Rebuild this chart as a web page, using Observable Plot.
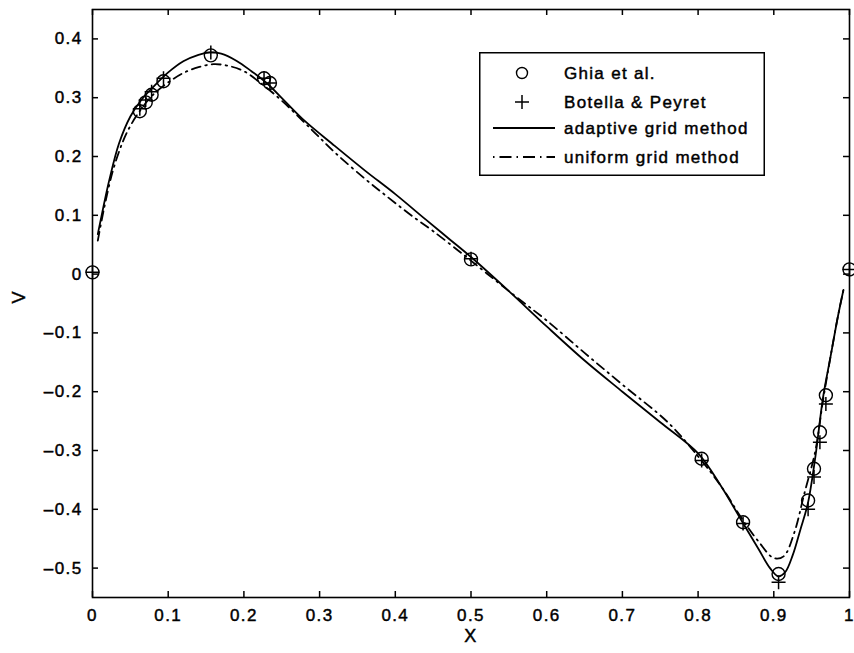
<!DOCTYPE html>
<html><head><meta charset="utf-8">
<script src="https://cdn.jsdelivr.net/npm/d3@7"></script>
<script src="https://cdn.jsdelivr.net/npm/@observablehq/plot@0.6"></script>
<style>
body{margin:0;background:#fff;}
#wrap{position:relative;width:854px;height:653px;font-family:"Liberation Sans",Arial,Helvetica,sans-serif;}
#wrap svg text{stroke:#000;stroke-width:0.45px;}
#legend{position:absolute;left:479px;top:52px;}
</style></head><body><div id="wrap"></div>
<script>
// Ghia et al. (circles)
const ghiaX = [0, 0.0625, 0.0703, 0.0781, 0.0938, 0.1563, 0.2266, 0.2344, 0.5, 0.8047, 0.8594, 0.9063, 0.9453, 0.9531, 0.9609, 0.9688, 1];
const ghiaV = [0.003, 0.277, 0.292, 0.305, 0.328, 0.372, 0.333, 0.325, 0.025, -0.314, -0.422, -0.510, -0.385, -0.331, -0.269, -0.206, 0.008];
// Botella & Peyret (plus)
const bpX = [0, 0.0625, 0.0703, 0.0781, 0.0938, 0.1563, 0.2266, 0.2344, 0.5, 0.8047, 0.8594, 0.9063, 0.9453, 0.9531, 0.9609, 0.9688, 1];
const bpV = [0.003, 0.281, 0.296, 0.310, 0.333, 0.377, 0.333, 0.325, 0.026, -0.317, -0.424, -0.524, -0.400, -0.345, -0.286, -0.221, 0.008];
// adaptive grid method (solid)
const adaptX = [0.007, 0.015, 0.022, 0.035, 0.05, 0.065, 0.08, 0.1, 0.12, 0.14, 0.155, 0.17, 0.19, 0.21, 0.23, 0.255, 0.28, 0.32, 0.36, 0.40, 0.44, 0.47, 0.50, 0.55, 0.60, 0.65, 0.70, 0.75, 0.80, 0.83, 0.86, 0.88, 0.895, 0.906, 0.915, 0.925, 0.935, 0.945, 0.955, 0.965, 0.975, 0.985, 0.992];
const adaptV = [0.068, 0.118, 0.159, 0.222, 0.268, 0.297, 0.318, 0.343, 0.362, 0.373, 0.377, 0.375, 0.363, 0.345, 0.325, 0.293, 0.261, 0.218, 0.176, 0.136, 0.093, 0.061, 0.029, -0.029, -0.089, -0.147, -0.200, -0.252, -0.305, -0.360, -0.425, -0.468, -0.500, -0.514, -0.507, -0.478, -0.435, -0.390, -0.310, -0.210, -0.140, -0.070, -0.027];
// uniform grid method (dash-dot)
const unifX = [0.007, 0.015, 0.027, 0.04, 0.05, 0.065, 0.08, 0.1, 0.12, 0.14, 0.16, 0.18, 0.2, 0.22, 0.25, 0.29, 0.32, 0.36, 0.39, 0.42, 0.45, 0.49, 0.52, 0.56, 0.6, 0.65, 0.7, 0.76, 0.8, 0.83, 0.86, 0.88, 0.9, 0.913, 0.927, 0.94, 0.955, 0.965, 0.975, 0.985, 0.992];
const unifV = [0.057, 0.110, 0.176, 0.225, 0.252, 0.282, 0.305, 0.326, 0.342, 0.352, 0.357, 0.354, 0.345, 0.327, 0.295, 0.245, 0.207, 0.162, 0.131, 0.101, 0.073, 0.033, 0.002, -0.039, -0.079, -0.134, -0.188, -0.252, -0.310, -0.360, -0.420, -0.455, -0.483, -0.480, -0.440, -0.375, -0.300, -0.215, -0.140, -0.070, -0.027];
// ticks
const xTicks = [0, 0.1, 0.2, 0.3, 0.4, 0.5, 0.6, 0.7, 0.8, 0.9, 1];
const yTicks = [-0.5, -0.4, -0.3, -0.2, -0.1, 0, 0.1, 0.2, 0.3, 0.4];
const legendLabels = ["Ghia et al.", "Botella & Peyret", "adaptive grid method", "uniform grid method"];
const xDomain = [0, 1];
const yDomain = [-0.55, 0.45];

const ghia = ghiaX.map((x, i) => ({x, v: ghiaV[i]}));
const bp = bpX.map((x, i) => ({x, v: bpV[i]}));
const adapt = adaptX.map((x, i) => ({x, v: adaptV[i]}));
const unif = unifX.map((x, i) => ({x, v: unifV[i]}));

const W = 854, H = 653, mT = 9, mB = 56, mL = 92, mR = 5;
const fw = W - mL - mR, fh = H - mT - mB, tk = 6;
// tick length expressed in data units of each scale
const tx = tk / fw * (xDomain[1] - xDomain[0]);
const ty = tk / fh * (yDomain[1] - yDomain[0]);

const plusSymbol = {draw(ctx, size) { const r = Math.sqrt(size / Math.PI); ctx.moveTo(-r, 0); ctx.lineTo(r, 0); ctx.moveTo(0, -r); ctx.lineTo(0, r); }};
const fmt = d => d === 0 ? "0" : (d < 0 ? "\u2013" : "") + Math.abs(d).toString().replace(/^0?\./, "0.");
const dash = "9,5,1.5,5";

const plot = Plot.plot({
  width: W, height: H,
  marginTop: mT, marginBottom: mB, marginLeft: mL, marginRight: mR,
  style: {fontFamily: '"Liberation Sans", Arial, Helvetica, sans-serif', fontSize: "17px", color: "#000", background: "#fff", letterSpacing: "1.4px"},
  x: {domain: xDomain},
  y: {domain: yDomain},
  marks: [
    Plot.axisX(xTicks, {anchor: "bottom", tickSize: 0, tickPadding: 11, tickFormat: fmt, label: null, fontSize: 17}),
    Plot.axisY(yTicks, {anchor: "left", tickSize: 0, tickPadding: 10, tickFormat: fmt, label: null, fontSize: 17}),
    Plot.ruleX(xTicks, {x: d => d, y1: yDomain[0], y2: yDomain[0] + ty, stroke: "#000", strokeWidth: 1.5}),
    Plot.ruleX(xTicks, {x: d => d, y1: yDomain[1], y2: yDomain[1] - ty, stroke: "#000", strokeWidth: 1.5}),
    Plot.ruleY(yTicks, {y: d => d, x1: xDomain[0], x2: xDomain[0] + tx, stroke: "#000", strokeWidth: 1.5}),
    Plot.ruleY(yTicks, {y: d => d, x1: xDomain[1], x2: xDomain[1] - tx, stroke: "#000", strokeWidth: 1.5}),
    Plot.frame({stroke: "#000", strokeWidth: 1.6}),
    Plot.line(unif, {x: "x", y: "v", stroke: "#000", strokeWidth: 1.8, strokeDasharray: dash, curve: "catmull-rom"}),
    Plot.line(adapt, {x: "x", y: "v", stroke: "#000", strokeWidth: 1.8, curve: "catmull-rom"}),
    Plot.dot(ghia, {x: "x", y: "v", r: 6.5, stroke: "#000", strokeWidth: 1.4, fill: "none"}),
    Plot.dot(bp, {x: "x", y: "v", r: 7, symbol: plusSymbol, stroke: "#000", strokeWidth: 1.5, fill: "none"}),
    Plot.text(["X"], {frameAnchor: "bottom", dy: 39, text: d => d, fontSize: 18, lineAnchor: "middle"}),
    Plot.text(["V"], {frameAnchor: "left", dx: -73, text: d => d, fontSize: 18, rotate: -90, lineAnchor: "middle"})
  ]
});
document.getElementById("wrap").appendChild(plot);

// legend box overlaid inside plot area
const lw = 286, lh = 124;
const rowsY = [21, 50, 76, 105];
const leg = d3.select("#wrap").append("svg").attr("id", "legend").attr("width", lw).attr("height", lh)
  .style("font-family", '"Liberation Sans", Arial, Helvetica, sans-serif').style("font-size", "17px").style("letter-spacing", "1.3px");
leg.append("rect").attr("x", 0.75).attr("y", 0.75).attr("width", lw - 1.5).attr("height", lh - 1.5).attr("fill", "#fff").attr("stroke", "#000").attr("stroke-width", 1.5);
leg.append("circle").attr("cx", 43).attr("cy", rowsY[0]).attr("r", 5.5).attr("fill", "none").attr("stroke", "#000").attr("stroke-width", 1.4);
leg.append("path").attr("d", `M36,${rowsY[1]}H50M43,${rowsY[1]-7}V${rowsY[1]+7}`).attr("stroke", "#000").attr("stroke-width", 1.5);
leg.append("line").attr("x1", 14).attr("x2", 76).attr("y1", rowsY[2]).attr("y2", rowsY[2]).attr("stroke", "#000").attr("stroke-width", 1.8);
leg.append("line").attr("x1", 14).attr("x2", 76).attr("y1", rowsY[3]).attr("y2", rowsY[3]).attr("stroke", "#000").attr("stroke-width", 1.8).attr("stroke-dasharray", "1.5,5,12,5");
legendLabels.forEach((t, i) => {
  leg.append("text").attr("x", 85).attr("y", rowsY[i]).attr("dy", "0.35em").text(t);
});
</script>
</body></html>
